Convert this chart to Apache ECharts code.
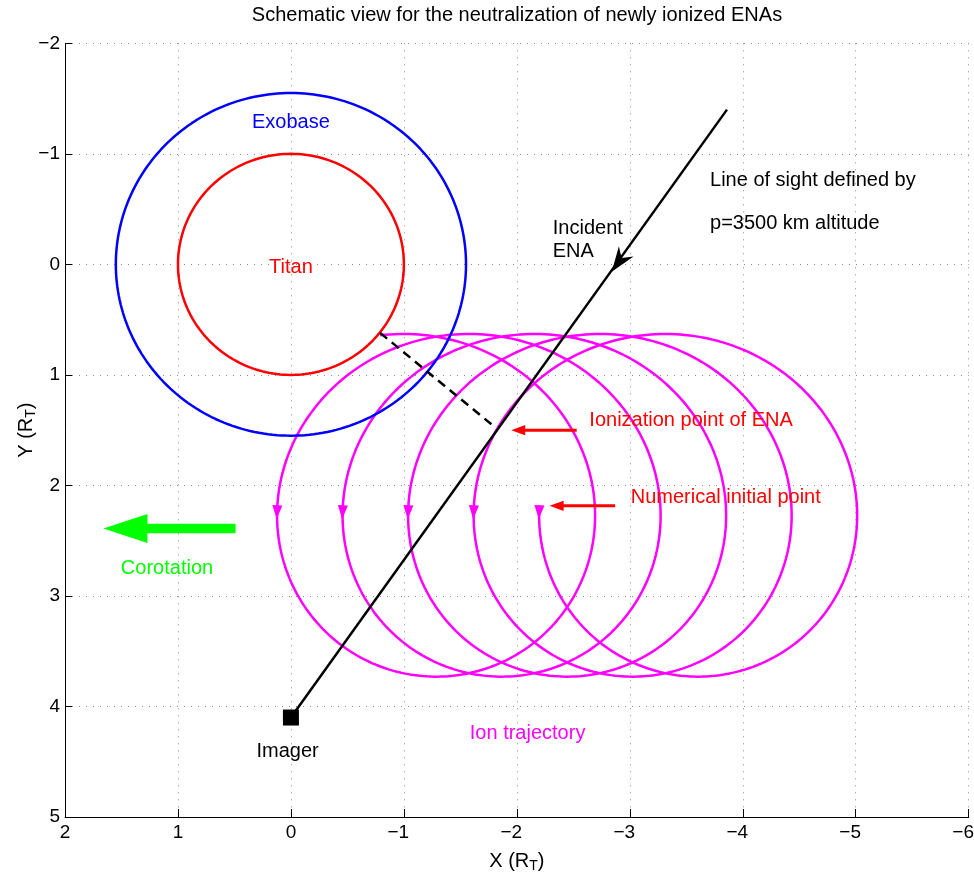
<!DOCTYPE html>
<html><head><meta charset="utf-8">
<script src="https://cdn.jsdelivr.net/npm/echarts@6/dist/echarts.min.js"></script>
<style>html,body{margin:0;padding:0;background:#fff}#chart{width:974px;height:878px}</style>
</head><body><div id="chart"></div>
<script>
// ---------------- data (units of Titan radii, R_T) ----------------
const xTickValues = [2, 1, 0, -1, -2, -3, -4, -5, -6];
const yTickValues = [-2, -1, 0, 1, 2, 3, 4, 5];
const titanCenter = [0, 0];
const titanRadius = 1.0;
const exobaseRadius = 1.55;
const imagerPos = [0, 4.1];
const lineOfSightEnd = [-3.86, -1.40];
const incidentArrowTip = [-2.84, 0.067];
const ionizationSegment = [[-0.79, 0.62], [-1.79, 1.46]];
const ionInitialPoint = [-2.2, 2.18];
const gyroRadius = 1.55;
const driftPerGyration = 0.58;
const gyrationCount = 4.77;
const ionizationArrow = [[-2.53, 1.50], [-1.95, 1.50]];
const initialPointArrow = [[-2.87, 2.185], [-2.29, 2.185]];
const corotationArrow = [[0.49, 2.39], [1.66, 2.39]];
const labelTexts = ['Exobase', 'Titan', 'Incident\nENA', 'Line of sight defined by', 'p=3500 km altitude',
  'Ionization point of ENA', 'Numerical initial point', 'Corotation', 'Imager', 'Ion trajectory'];
const labelAnchors = [[0, -1.28], [0, 0.03], [-2.318, -0.22], [-3.71, -0.757], [-3.71, -0.371],
  [-2.642, 1.409], [-3.008, 2.112], [1.097, 2.748], [0.03, 4.411], [-2.095, 4.242]];

// ---------------- styles ----------------
const FONT = "'Liberation Sans', Arial, Helvetica, sans-serif";
const labelColors = ['#0000ff', '#ff0000', '#000000', '#000000', '#000000', '#ff0000', '#ff0000', '#00ff00', '#000000', '#ff00ff'];
const labelAligns = ['center', 'center', 'left', 'left', 'left', 'left', 'left', 'center', 'center', 'center'];
const nameRich = {
  m: { fontSize: 20, fontFamily: FONT, color: '#000', verticalAlign: 'top', lineHeight: 22 },
  sub: { fontSize: 14, fontFamily: FONT, color: '#000', verticalAlign: 'bottom', lineHeight: 14, padding: [14, 0, 0, 0] }
};

// ---------------- geometry helpers ----------------
function circlePoints(c, r, n) {
  const pts = [];
  for (let i = 0; i <= n; i++) {
    const a = 2 * Math.PI * i / n;
    pts.push([c[0] + r * Math.cos(a), c[1] + r * Math.sin(a)]);
  }
  return pts;
}
// gyration about a guiding centre drifting toward +x (corotation)
function gyroPoint(phi) {
  const xc0 = ionInitialPoint[0] - gyroRadius;
  return [xc0 + driftPerGyration * phi / (2 * Math.PI) + gyroRadius * Math.cos(phi),
          ionInitialPoint[1] + gyroRadius * Math.sin(phi)];
}
function trajectoryPoints() {
  const pts = [];
  const total = gyrationCount * 2 * Math.PI;
  const n = Math.round(gyrationCount * 240);
  for (let i = 0; i <= n; i++) pts.push(gyroPoint(total * i / n));
  return pts;
}
const gyroArrowPhases = [];
for (let k = 0; k < Math.floor(gyrationCount) + 1; k++) gyroArrowPhases.push(2 * Math.PI * k);

function fmtY(v) { return v < 0 ? '\u2212' + Math.abs(v) : String(v); }
// x labels: digit centred on the tick, minus sign hanging to the left
function fmtX(v) { return v < 0 ? '\u2212' + Math.abs(v) + '{pad| }' : String(v); }

// ---------------- arrow renderers ----------------
function arrowRenderer(color, shaftW, headL, headHW) {
  return function (params, api) {
    const p1 = api.coord([api.value(0), api.value(1)]);
    const p2 = api.coord([api.value(2), api.value(3)]);
    const dx = p2[0] - p1[0], dy = p2[1] - p1[1];
    const len = Math.hypot(dx, dy), ux = dx / len, uy = dy / len, nx = -uy, ny = ux;
    const bx = p2[0] - ux * headL, by = p2[1] - uy * headL;
    return {
      type: 'group', children: [
        { type: 'line', shape: { x1: p1[0], y1: p1[1], x2: bx + ux * 2, y2: by + uy * 2 },
          style: { stroke: color, lineWidth: shaftW } },
        { type: 'polygon', shape: { points: [[p2[0], p2[1]], [bx + nx * headHW, by + ny * headHW], [bx - nx * headHW, by - ny * headHW]] },
          style: { fill: color } }
      ]
    };
  };
}
function segData(seg) { return [[seg[0][0], seg[0][1], seg[1][0], seg[1][1]]]; }

const chart = echarts.init(document.getElementById('chart'), null, { renderer: 'canvas' });

const option = {
  animation: false,
  backgroundColor: '#ffffff',
  title: {
    text: 'Schematic view for the neutralization of newly ionized ENAs',
    left: 517, top: 5, padding: 0, textAlign: 'center',
    textStyle: { fontSize: 20, fontWeight: 'normal', color: '#000', fontFamily: FONT }
  },
  grid: { left: 65, right: 5.3, top: 43.3, bottom: 61, containLabel: false, outerBoundsMode: 'none' },
  xAxis: {
    type: 'value', min: -6, max: 2, interval: 1, inverse: true, position: 'bottom',
    name: '{m|X (R}{sub|T}{m|)}', nameLocation: 'middle', nameGap: 34, nameMoveOverlap: false,
    nameTextStyle: { fontSize: 20, color: '#000', fontFamily: FONT, rich: nameRich },
    axisLine: { show: true, onZero: false, lineStyle: { color: '#000', width: 1 } },
    axisTick: { show: true, inside: true, length: 8, lineStyle: { color: '#000', width: 1 }, customValues: xTickValues },
    axisLabel: { color: '#000', fontSize: 19, fontFamily: FONT, margin: 6, formatter: fmtX,
      showMinLabel: true, showMaxLabel: true, customValues: xTickValues,
      rich: { pad: { width: 11.1, fontSize: 19, fontFamily: FONT } } },
    splitLine: { show: true, lineStyle: { color: '#8c8c8c', width: 1, type: [1, 6] } }
  },
  yAxis: {
    type: 'value', min: -2, max: 5, interval: 1, inverse: true, position: 'left',
    name: '{m|Y (R}{sub|T}{m|)}', nameLocation: 'middle', nameGap: 27, nameMoveOverlap: false,
    nameTextStyle: { fontSize: 20, color: '#000', fontFamily: FONT, rich: nameRich },
    axisLine: { show: true, onZero: false, lineStyle: { color: '#000', width: 1 } },
    axisTick: { show: true, inside: true, length: 7, lineStyle: { color: '#000', width: 1 }, customValues: yTickValues },
    axisLabel: { color: '#000', fontSize: 19, fontFamily: FONT, margin: 5, formatter: fmtY,
      showMinLabel: true, showMaxLabel: true, customValues: yTickValues },
    splitLine: { show: true, lineStyle: { color: '#8c8c8c', width: 1, type: [1, 6] } }
  },
  series: [
    { name: 'Ion trajectory', type: 'line', data: trajectoryPoints(), showSymbol: false, silent: true, z: 2,
      lineStyle: { color: '#ff00ff', width: 2.5 } },
    { name: 'Ion arrows', type: 'custom', z: 3, silent: true,
      data: gyroArrowPhases.map(p => { const a = gyroPoint(p), b = gyroPoint(p + 0.02); return [a[0], a[1], b[0], b[1]]; }),
      encode: { x: [0, 2], y: [1, 3] },
      renderItem: function (params, api) {
        const p1 = api.coord([api.value(0), api.value(1)]);
        const p2 = api.coord([api.value(2), api.value(3)]);
        const dx = p2[0] - p1[0], dy = p2[1] - p1[1];
        const len = Math.hypot(dx, dy), ux = dx / len, uy = dy / len, nx = -uy, ny = ux;
        const tip = [p1[0] + ux * 14, p1[1] + uy * 14];
        return { type: 'polygon', shape: { points: [tip, [p1[0] + nx * 5, p1[1] + ny * 5], [p1[0] - nx * 5, p1[1] - ny * 5]] },
          style: { fill: '#ff00ff' } };
      } },
    { name: 'Exobase', type: 'line', data: circlePoints(titanCenter, exobaseRadius, 240), showSymbol: false, silent: true, z: 3,
      lineStyle: { color: '#0000ff', width: 2.5 } },
    { name: 'Titan', type: 'line', data: circlePoints(titanCenter, titanRadius, 200), showSymbol: false, silent: true, z: 3,
      lineStyle: { color: '#ff0000', width: 2.5 } },
    { name: 'Line of sight', type: 'line', data: [imagerPos, lineOfSightEnd], showSymbol: false, silent: true, z: 4,
      lineStyle: { color: '#000', width: 2.5 } },
    { name: 'Ionization link', type: 'line', data: ionizationSegment, showSymbol: false, silent: true, z: 4,
      lineStyle: { color: '#000', width: 2.5, type: [9, 6] } },
    { name: 'Imager', type: 'scatter', data: [imagerPos], symbol: 'rect', symbolSize: 16, silent: true, z: 5,
      itemStyle: { color: '#000', opacity: 1 } },
    { name: 'Incident arrow', type: 'custom', z: 5, silent: true,
      data: [[lineOfSightEnd[0], lineOfSightEnd[1], incidentArrowTip[0], incidentArrowTip[1]]],
      encode: { x: [0, 2], y: [1, 3] },
      renderItem: function (params, api) {
        const p1 = api.coord([api.value(0), api.value(1)]);
        const p2 = api.coord([api.value(2), api.value(3)]);
        const dx = p2[0] - p1[0], dy = p2[1] - p1[1];
        const len = Math.hypot(dx, dy), ux = dx / len, uy = dy / len, nx = -uy, ny = ux;
        const L = 25, hw = 9, notch = 17;
        return { type: 'polygon', shape: { points: [
          [p2[0], p2[1]],
          [p2[0] - ux * L + nx * hw, p2[1] - uy * L + ny * hw],
          [p2[0] - ux * notch, p2[1] - uy * notch],
          [p2[0] - ux * L - nx * hw, p2[1] - uy * L - ny * hw]
        ] }, style: { fill: '#000' } };
      } },
    { name: 'Ionization arrow', type: 'custom', z: 5, silent: true,
      data: segData(ionizationArrow), encode: { x: [0, 2], y: [1, 3] }, renderItem: arrowRenderer('#ff0000', 3, 14, 5.2) },
    { name: 'Initial point arrow', type: 'custom', z: 5, silent: true,
      data: segData(initialPointArrow), encode: { x: [0, 2], y: [1, 3] }, renderItem: arrowRenderer('#ff0000', 3, 14, 5.2) },
    { name: 'Corotation arrow', type: 'custom', z: 5, silent: true,
      data: segData(corotationArrow), encode: { x: [0, 2], y: [1, 3] }, renderItem: arrowRenderer('#00ff00', 9.3, 44, 14.5) },
    { name: 'Labels', type: 'custom', z: 6, silent: true, clip: false,
      data: labelAnchors.map((a, i) => [a[0], a[1], i]),
      encode: { x: 0, y: 1 },
      renderItem: function (params, api) {
        const i = api.value(2);
        const p = api.coord([api.value(0), api.value(1)]);
        return { type: 'text', x: p[0], y: p[1],
          style: { text: labelTexts[i], fill: labelColors[i], fontSize: 20, fontFamily: FONT,
            align: labelAligns[i], verticalAlign: 'middle', lineHeight: 23.4 } };
      } }
  ]
};
chart.setOption(option);
</script>
</body></html>
